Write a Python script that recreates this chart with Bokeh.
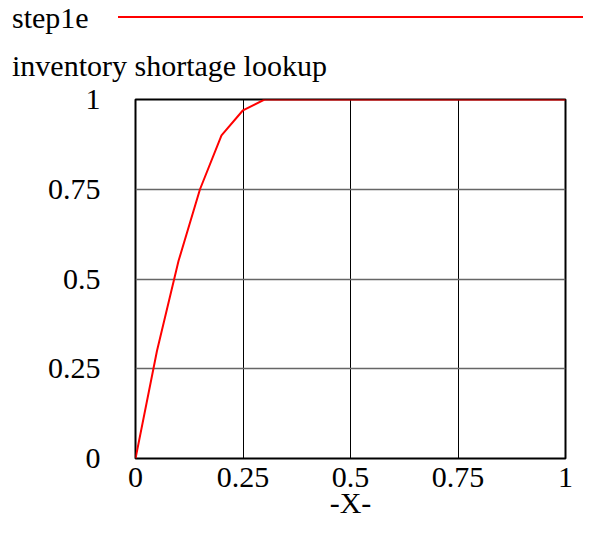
from bokeh.plotting import figure
from bokeh.models import Range1d, FixedTicker, Div
from bokeh.layouts import column
from bokeh.embed import file_html
from bokeh.resources import INLINE

x_vals = [0.0, 0.05, 0.1, 0.15, 0.2, 0.25, 0.3, 0.4, 0.5, 0.6, 0.7, 0.8, 0.9, 1.0]
y_vals = [0.0, 0.30, 0.55, 0.75, 0.90, 0.97, 1.0, 1.0, 1.0, 1.0, 1.0, 1.0, 1.0, 1.0]
ticks = [0, 0.25, 0.5, 0.75, 1]
tick_labels = {0: "0", 0.25: "0.25", 0.5: "0.5", 0.75: "0.75", 1: "1"}
series_name = "step1e"
chart_title = "inventory shortage lookup"
x_label = "-X-"

FONT = "Liberation Serif"
FS = "30px"
W = 583
HEAD_H = 82
MAIN_H = 521 - HEAD_H

# ---- header: series key (name + red line) and chart title
head_html = (
    f'<div style="position:relative;width:{W}px;height:{HEAD_H}px;'
    f'font-family:\'{FONT}\';font-size:{FS};line-height:30px;color:black;">'
    f'<span style="position:absolute;left:12px;top:3px;white-space:nowrap;">{series_name}</span>'
    f'<div style="position:absolute;left:118px;right:0px;top:16px;height:2px;background:red;"></div>'
    f'<span style="position:absolute;left:12px;top:51px;white-space:nowrap;">{chart_title}</span>'
    f'</div>'
)
head = Div(text=head_html, width=W, height=HEAD_H, margin=(0, 0, 0, 0))

# ---- main chart
p = figure(width=W, height=MAIN_H, output_backend="svg", toolbar_location=None,
           x_range=Range1d(0, 1), y_range=Range1d(0, 1),
           min_border_left=135, min_border_right=18, min_border_top=17, min_border_bottom=61)
p.background_fill_color = "white"
p.border_fill_color = "white"
p.outline_line_color = "black"
p.outline_line_width = 2

p.line(x_vals, y_vals, line_color="red", line_width=2)

for ax in (p.xaxis[0], p.yaxis[0]):
    ax.ticker = FixedTicker(ticks=ticks)
    ax.major_label_overrides = tick_labels
    ax.axis_line_color = None
    ax.major_tick_line_color = None
    ax.minor_tick_line_color = None
    ax.major_tick_in = 0
    ax.major_tick_out = 0
    ax.minor_tick_in = 0
    ax.minor_tick_out = 0
    ax.major_label_text_font = FONT
    ax.major_label_text_font_size = FS
    ax.major_label_text_color = "black"

p.yaxis.major_label_standoff = 35
p.xaxis.major_label_standoff = 9
p.xaxis.axis_label = x_label
p.xaxis.axis_label_text_font = FONT
p.xaxis.axis_label_text_font_size = FS
p.xaxis.axis_label_text_font_style = "normal"
p.xaxis.axis_label_text_color = "black"
p.xaxis.axis_label_standoff = -4

p.xgrid.ticker = FixedTicker(ticks=ticks)
p.ygrid.ticker = FixedTicker(ticks=ticks)
p.xgrid.grid_line_color = "black"
p.xgrid.grid_line_width = 1
p.ygrid.grid_line_color = "#666666"
p.ygrid.grid_line_width = 1.3

layout = column(head, p, spacing=0)
open("out.html", "w").write(file_html(layout, INLINE))
